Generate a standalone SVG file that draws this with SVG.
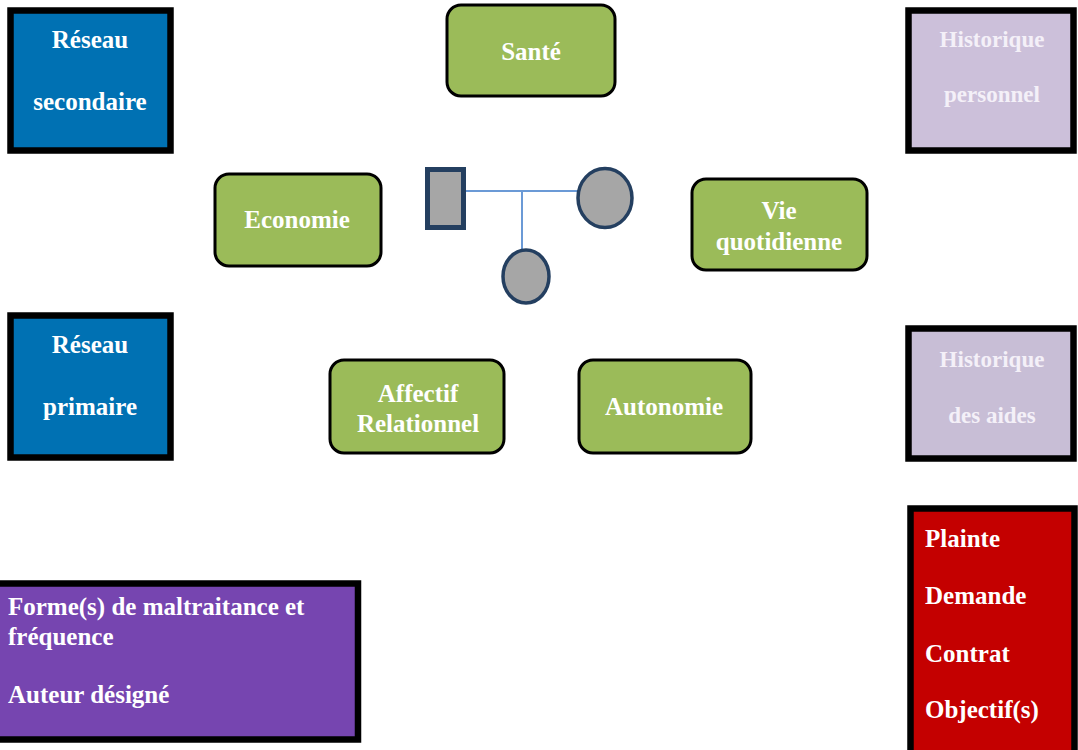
<svg xmlns="http://www.w3.org/2000/svg" width="1078" height="750" viewBox="0 0 1078 750">
  <style>
    text { font-family: "Liberation Serif", "Times New Roman", serif; font-weight: bold; fill: #ffffff; }
    .c { text-anchor: middle; font-size: 25px; }
    .l { text-anchor: start; font-size: 25px; }
    .h { text-anchor: middle; font-size: 23px; fill: #f4f0f8; }
    .square { stroke: #000000; stroke-width: 6.5; }
    .blue { fill: #0071b3; }
    .lilac { fill: #ccc0da; }
    .lilac2 { fill: #c8bed6; }
    .purple { fill: #7645b0; }
    .red { fill: #c40000; }
    .topic { fill: #9bbb59; stroke: #000000; stroke-width: 3; }
    .person { fill: #a6a6a6; stroke: #243f60; }
    .link { stroke: #6b9ad6; stroke-width: 2; fill: none; }
  </style>

  <!-- corner boxes -->
  <g id="reseau-secondaire">
    <rect class="square blue" x="10.5" y="10.5" width="160" height="140"/>
    <text class="c" x="90" y="48">Réseau</text>
    <text class="c" x="90" y="110">secondaire</text>
  </g>
  <g id="reseau-primaire">
    <rect class="square blue" x="10.5" y="315.5" width="160" height="142"/>
    <text class="c" x="90" y="353">Réseau</text>
    <text class="c" x="90" y="415">primaire</text>
  </g>
  <g id="historique-personnel">
    <rect class="square lilac" x="908.5" y="10.5" width="165" height="140"/>
    <text class="h" x="992" y="47">Historique</text>
    <text class="h" x="992" y="102">personnel</text>
  </g>
  <g id="historique-aides">
    <rect class="square lilac2" x="908.5" y="328.5" width="165" height="130"/>
    <text class="h" x="992" y="367">Historique</text>
    <text class="h" x="992" y="423">des aides</text>
  </g>
  <g id="maltraitance">
    <rect class="square purple" x="-4" y="583.5" width="362" height="156"/>
    <text class="l" x="8" y="615">Forme(s) de maltraitance et</text>
    <text class="l" x="8" y="645">fréquence</text>
    <text class="l" x="8" y="703">Auteur désigné</text>
  </g>
  <g id="demande">
    <rect class="square red" x="910.5" y="508.5" width="164" height="246"/>
    <text class="l" x="925" y="547">Plainte</text>
    <text class="l" x="925" y="604">Demande</text>
    <text class="l" x="925" y="662">Contrat</text>
    <text class="l" x="925" y="718">Objectif(s)</text>
  </g>

  <!-- life areas around the family -->
  <g id="sante">
    <rect class="topic" x="447" y="5" width="168" height="91" rx="14"/>
    <text class="c" x="531" y="60">Santé</text>
  </g>
  <g id="economie">
    <rect class="topic" x="215" y="174" width="166" height="92" rx="14"/>
    <text class="c" x="297" y="228">Economie</text>
  </g>
  <g id="vie-quotidienne">
    <rect class="topic" x="692" y="179" width="175" height="91" rx="14"/>
    <text class="c" x="779" y="219">Vie</text>
    <text class="c" x="779" y="250">quotidienne</text>
  </g>
  <g id="affectif">
    <rect class="topic" x="330" y="360" width="174" height="93" rx="14"/>
    <text class="c" x="418" y="402">Affectif</text>
    <text class="c" x="418" y="432">Relationnel</text>
  </g>
  <g id="autonomie">
    <rect class="topic" x="579" y="360" width="172" height="93" rx="14"/>
    <text class="c" x="664" y="415">Autonomie</text>
  </g>

  <!-- family tree links -->
  <g id="connectors">
    <line class="link" x1="463" y1="191" x2="578" y2="191"/>
    <line class="link" x1="522" y1="191" x2="522" y2="250"/>
  </g>

  <!-- family members -->
  <g id="pere">
    <rect class="person" x="427.5" y="169.5" width="36" height="58" stroke-width="5"/>
  </g>
  <g id="mere">
    <ellipse class="person" cx="605" cy="198" rx="27" ry="29.5" stroke-width="3.5"/>
  </g>
  <g id="enfant">
    <ellipse class="person" cx="526" cy="276.5" rx="23" ry="26.5" stroke-width="3.5"/>
  </g>
</svg>
